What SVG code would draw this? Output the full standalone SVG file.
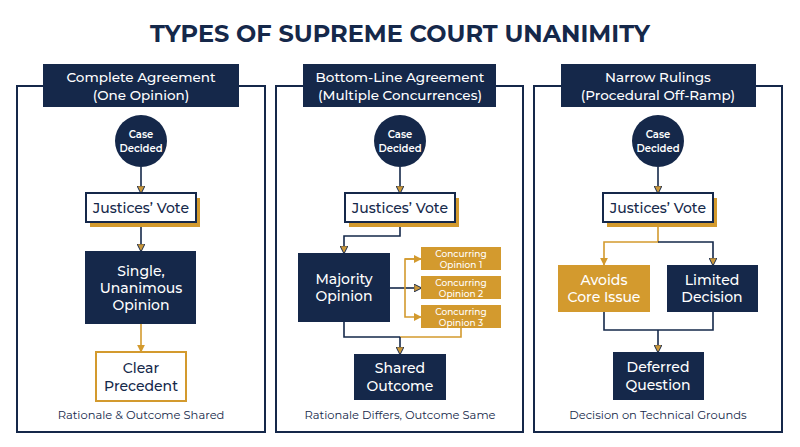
<svg xmlns="http://www.w3.org/2000/svg" width="800" height="447" viewBox="0 0 800 447">
<style>
text{font-family:"Montserrat","Inter","Liberation Sans",sans-serif;text-anchor:middle}
.t{font-size:24px;font-weight:700;fill:#15284a}
.hd{fill:#15284a}
.ht{font-size:13.5px;fill:#fff;font-weight:500}
.pn{fill:#fff;stroke:#15284a;stroke-width:2}
.dk{fill:#15284a}
.wt2{fill:#fff;font-size:14px;font-weight:500}
.bx{fill:#fff;stroke:#15284a;stroke-width:2}
.sh{fill:#d39a2e}
.bt{fill:#15284a;font-size:14px;font-weight:500}
.gd{fill:#d39a2e}
.cc{fill:#fff;font-size:10px;font-weight:600}
.co{fill:#fff;font-size:9px;font-weight:500}
.cap{fill:#15284a;font-size:11.5px}
.l{fill:none;stroke:#15284a;stroke-width:1.6}
.g{fill:none;stroke:#d39a2e;stroke-width:1.6}
.dot1{fill:#f0dcc0}
.dot2{fill:#5a5f75}
</style>
<defs>
<marker id="a" viewBox="0 0 10 10" refX="9" refY="5" markerWidth="8" markerHeight="8" orient="auto" markerUnits="userSpaceOnUse"><path d="M0,0 L10,5 L0,10 Z" fill="#c9973a" stroke="#15284a" stroke-width="1.2"/></marker>
<marker id="ag" viewBox="0 0 10 10" refX="9" refY="5" markerWidth="8" markerHeight="8" orient="auto" markerUnits="userSpaceOnUse"><path d="M0,0 L10,5 L0,10 Z" fill="#d39a2e"/></marker>
</defs>
<rect width="800" height="447" fill="#fff"/>
<text x="400" y="42" class="t">TYPES OF SUPREME COURT UNANIMITY</text>
<g id="deco">
<circle cx="120" cy="128" r="8" class="dot1"/><circle cx="163" cy="163" r="7" class="dot1"/><circle cx="220" cy="148" r="6" class="dot1"/><circle cx="227" cy="158" r="4" class="dot2"/><circle cx="53" cy="182" r="3" class="dot1"/>
<circle cx="71" cy="345" r="6" class="dot1"/><circle cx="74" cy="347" r="4" class="dot2"/><circle cx="211" cy="380" r="4" class="dot2"/>
<circle cx="380" cy="124" r="7" class="dot1"/><circle cx="484" cy="150" r="6" class="dot1"/><circle cx="490" cy="160" r="4" class="dot2"/>
<circle cx="317" cy="367" r="7" class="dot1"/><circle cx="323" cy="367" r="4" class="dot2"/><circle cx="489" cy="358" r="3" class="dot1"/>
<circle cx="740" cy="170" r="3" class="dot1"/><circle cx="745" cy="383" r="4" class="dot2"/>
</g>
<g id="panel1">
<rect x="17" y="86" width="248" height="346" class="pn"/>
<rect x="43" y="64" width="196" height="43" class="hd"/>
<text x="141" y="82" class="ht">Complete Agreement</text><text x="141" y="100" class="ht">(One Opinion)</text>
<text x="141" y="419" class="cap">Rationale &amp; Outcome Shared</text>
</g>
<g id="panel2">
<rect x="276" y="86" width="247" height="346" class="pn"/>
<rect x="303" y="64" width="193" height="43" class="hd"/>
<text x="400" y="82" class="ht">Bottom-Line Agreement</text><text x="400" y="100" class="ht">(Multiple Concurrences)</text>
<text x="400" y="419" class="cap">Rationale Differs, Outcome Same</text>
</g>
<g id="panel3">
<rect x="534" y="86" width="248" height="346" class="pn"/>
<rect x="561" y="64" width="195" height="43" class="hd"/>
<text x="658" y="82" class="ht">Narrow Rulings</text><text x="658" y="100" class="ht">(Procedural Off-Ramp)</text>
<text x="658" y="419" class="cap">Decision on Technical Grounds</text>
</g>
<g id="connectors">
<path d="M141,167 V193" class="l" marker-end="url(#a)"/>
<path d="M141,222 V251" class="l" marker-end="url(#a)"/>
<path d="M141,324 V352" class="g" marker-end="url(#ag)"/>
<path d="M400,167 V193" class="l" marker-end="url(#a)"/>
<path d="M400,222 V236 H344 V253" class="l" marker-end="url(#a)"/>
<path d="M390,288 H421" class="l" marker-end="url(#a)"/>
<path d="M421,259 H405 V317 H421" class="g" marker-end="url(#ag)"/>
<path d="M405,259 H421" class="g" marker-end="url(#ag)"/>
<path d="M344,322 V337 H400" class="l"/>
<path d="M461,328 V337 H400" class="g"/>
<path d="M400,337 V354" class="l" marker-end="url(#a)"/>
<path d="M658,167 V193" class="l" marker-end="url(#a)"/>
<path d="M658,222 V242 H604 V265" class="g" marker-end="url(#ag)"/>
<path d="M658,242 H713 V265" class="l" marker-end="url(#a)"/>
<path d="M604,312 V330 H713 V312" class="l"/>
<path d="M658,330 V352" class="l" marker-end="url(#a)"/>
</g>
<g id="case1"><circle cx="141" cy="141" r="26" class="dk"/><text x="141" y="138" class="cc">Case</text><text x="141" y="152" class="cc">Decided</text></g>
<g id="case2"><circle cx="400" cy="141" r="26" class="dk"/><text x="400" y="138" class="cc">Case</text><text x="400" y="152" class="cc">Decided</text></g>
<g id="case3"><circle cx="658" cy="141" r="26" class="dk"/><text x="658" y="138" class="cc">Case</text><text x="658" y="152" class="cc">Decided</text></g>
<g id="vote1"><rect x="90" y="198" width="110" height="29" class="sh"/><rect x="86" y="193" width="110" height="29" class="bx"/><text x="141" y="213" class="bt">Justices’ Vote</text></g>
<g id="vote2"><rect x="349" y="198" width="110" height="29" class="sh"/><rect x="345" y="193" width="110" height="29" class="bx"/><text x="400" y="213" class="bt">Justices’ Vote</text></g>
<g id="vote3"><rect x="607" y="198" width="110" height="29" class="sh"/><rect x="603" y="193" width="110" height="29" class="bx"/><text x="658" y="213" class="bt">Justices’ Vote</text></g>
<g id="single"><rect x="85" y="251" width="111" height="73" class="dk"/><text x="141" y="276" class="wt2">Single,</text><text x="141" y="293" class="wt2">Unanimous</text><text x="141" y="310" class="wt2">Opinion</text></g>
<g id="precedent"><rect x="96" y="352" width="90" height="49" fill="#fff" stroke="#d39a2e" stroke-width="2"/><text x="141" y="373" class="bt">Clear</text><text x="141" y="391" class="bt">Precedent</text></g>
<g id="majority"><rect x="298" y="253" width="92" height="69" class="dk"/><text x="344" y="284" class="wt2">Majority</text><text x="344" y="301" class="wt2">Opinion</text></g>
<g id="conc1"><rect x="421" y="247" width="80" height="23" class="gd"/><text x="461" y="257" class="co">Concurring</text><text x="461" y="268" class="co">Opinion 1</text></g>
<g id="conc2"><rect x="421" y="276" width="80" height="23" class="gd"/><text x="461" y="286" class="co">Concurring</text><text x="461" y="297" class="co">Opinion 2</text></g>
<g id="conc3"><rect x="421" y="305" width="80" height="23" class="gd"/><text x="461" y="315" class="co">Concurring</text><text x="461" y="326" class="co">Opinion 3</text></g>
<g id="shared"><rect x="354" y="354" width="92" height="46" class="dk"/><text x="400" y="373" class="wt2">Shared</text><text x="400" y="391" class="wt2">Outcome</text></g>
<g id="avoids"><rect x="558" y="265" width="92" height="47" class="gd"/><text x="604" y="285" class="wt2">Avoids</text><text x="604" y="302" class="wt2">Core Issue</text></g>
<g id="limited"><rect x="667" y="265" width="91" height="47" class="dk"/><text x="712" y="285" class="wt2">Limited</text><text x="712" y="302" class="wt2">Decision</text></g>
<g id="deferred"><rect x="613" y="352" width="91" height="48" class="dk"/><text x="658" y="372" class="wt2">Deferred</text><text x="658" y="390" class="wt2">Question</text></g>
</svg>
